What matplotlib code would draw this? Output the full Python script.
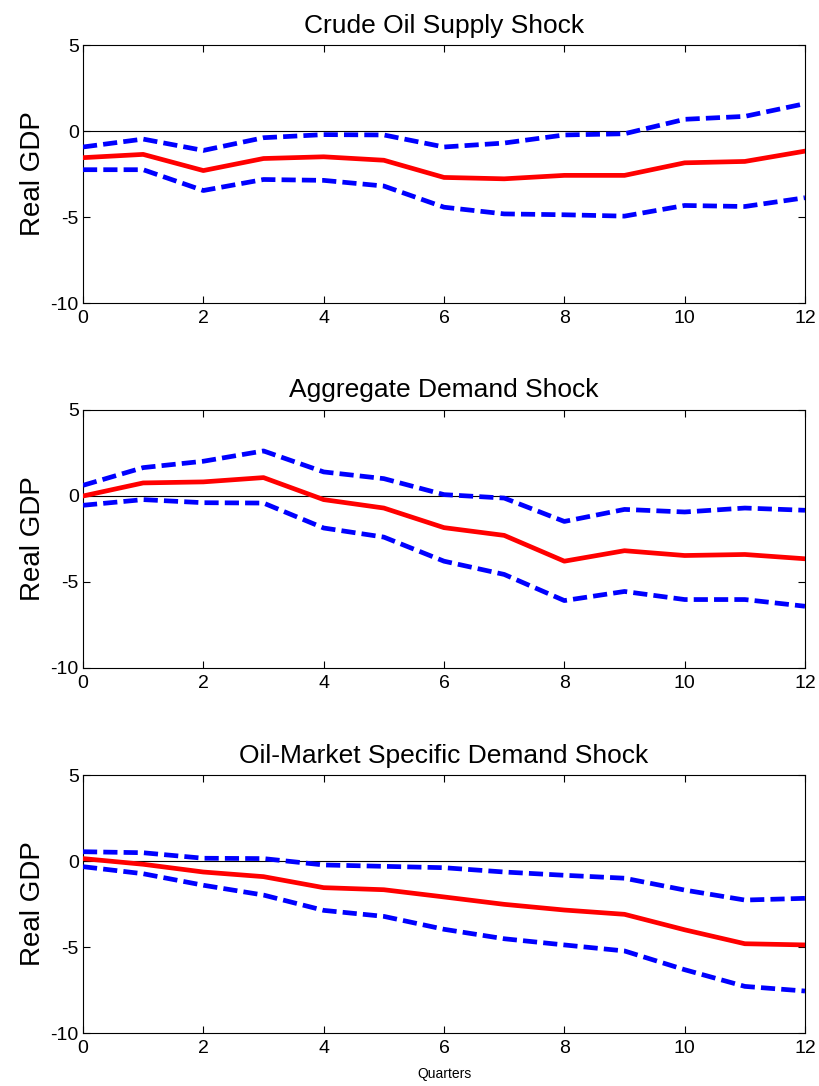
import matplotlib
matplotlib.use("Agg")
import matplotlib.pyplot as plt
import numpy as np

plt.rcParams['font.family'] = ['Liberation Sans', 'DejaVu Sans']
plt.rcParams['axes.unicode_minus'] = False

quarters = list(range(13))
titles = ["Crude Oil Supply Shock", "Aggregate Demand Shock",
          "Oil-Market Specific Demand Shock"]
ylabel = "Real GDP"
xlabel = "Quarters"
xticks = [0, 2, 4, 6, 8, 10, 12]
yticks = [-10, -5, 0, 5]

supply_mid = [-1.55, -1.36, -2.30, -1.60, -1.50, -1.70, -2.70, -2.78, -2.58, -2.58, -1.85, -1.77, -1.17]
supply_up = [-0.93, -0.47, -1.13, -0.39, -0.21, -0.23, -0.93, -0.70, -0.23, -0.16, 0.68, 0.85, 1.59]
supply_lo = [-2.25, -2.25, -3.46, -2.82, -2.87, -3.20, -4.43, -4.82, -4.87, -4.95, -4.33, -4.39, -3.88]

agg_mid = [0.0, 0.76, 0.82, 1.07, -0.21, -0.70, -1.84, -2.29, -3.79, -3.18, -3.46, -3.40, -3.65]
agg_up = [0.62, 1.65, 2.02, 2.62, 1.40, 1.01, 0.08, -0.12, -1.48, -0.78, -0.93, -0.70, -0.83]
agg_lo = [-0.54, -0.21, -0.39, -0.41, -1.86, -2.39, -3.79, -4.56, -6.08, -5.55, -6.02, -6.02, -6.41]

spec_mid = [0.14, -0.19, -0.64, -0.91, -1.55, -1.67, -2.09, -2.52, -2.85, -3.10, -4.00, -4.81, -4.88]
spec_up = [0.54, 0.48, 0.16, 0.14, -0.23, -0.31, -0.39, -0.64, -0.83, -1.00, -1.69, -2.27, -2.17]
spec_lo = [-0.33, -0.74, -1.41, -1.98, -2.87, -3.22, -3.97, -4.52, -4.88, -5.23, -6.32, -7.29, -7.56]

mids = [supply_mid, agg_mid, spec_mid]
ups = [supply_up, agg_up, spec_up]
los = [supply_lo, agg_lo, spec_lo]

W, H = 819, 1086
fig = plt.figure(figsize=(W / 100, H / 100), dpi=100)

tops = [45, 410, 775]
ax_h = 258
left, right = 83, 805

for i in range(3):
    ax = fig.add_axes([left / W, 1 - (tops[i] + ax_h) / H, (right - left) / W, ax_h / H])
    ax.axhline(0, color='black', lw=0.8, zorder=1)
    ax.plot(quarters, ups[i], color='#0000ff', lw=3.4, ls=(0, (3.0, 1.3)), zorder=3)
    ax.plot(quarters, los[i], color='#0000ff', lw=3.4, ls=(0, (3.0, 1.3)), zorder=3)
    ax.plot(quarters, mids[i], color='#ff0000', lw=3.4, zorder=4)
    ax.set_xlim(0, 12)
    ax.set_ylim(-10, 5)
    ax.set_xticks(xticks)
    ax.set_yticks(yticks)
    ax.tick_params(direction='in', top=True, right=True, labelsize=14, length=5, width=0.8)
    ax.tick_params(axis='x', pad=5)
    ax.tick_params(axis='y', pad=3)
    for s in ax.spines.values():
        s.set_linewidth(0.8)
    ax.set_title(titles[i], fontsize=19, pad=9)
    ax.set_ylabel(ylabel, fontsize=20, labelpad=3)
    if i == 2:
        ax.set_xlabel(xlabel, fontsize=10, labelpad=7)

fig.savefig("out.png", dpi=100)
